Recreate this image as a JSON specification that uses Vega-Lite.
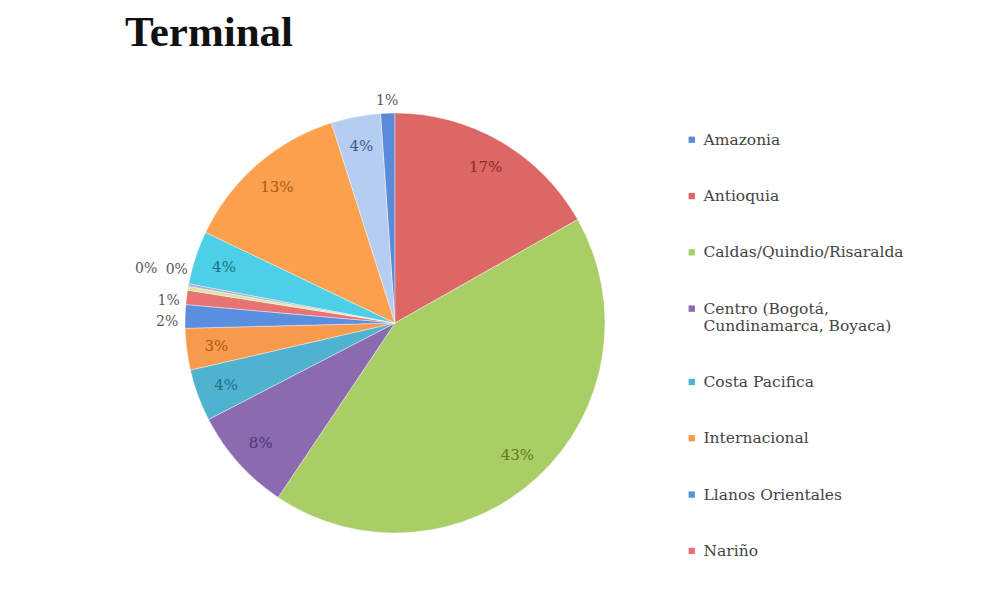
{
  "$schema": "https://vega.github.io/schema/vega-lite/v6.json",
  "autosize": {"type": "none"},
  "padding": {"left": 0, "top": 60, "right": 191, "bottom": 23},
  "width": 790,
  "height": 526,
  "background": "#ffffff",
  "title": {"text": "Terminal", "anchor": "start", "frame": "group", "font": "Liberation Serif", "fontSize": 43, "fontWeight": "bold", "color": "#111111", "dx": 125, "dy": 42, "offset": 13, "baseline": "alphabetic"},
  "data": {"values": [
    {"name": "Amazonia", "share": 0.011},
    {"name": "Antioquia", "share": 0.168},
    {"name": "Caldas/Quindio/Risaralda", "share": 0.426},
    {"name": "Centro (Bogotá, Cundinamarca, Boyaca)", "share": 0.080},
    {"name": "Costa Pacifica", "share": 0.040},
    {"name": "Internacional", "share": 0.032},
    {"name": "Llanos Orientales", "share": 0.018},
    {"name": "Nariño", "share": 0.011},
    {"name": "Norte de Santander", "share": 0.003},
    {"name": "Putumayo", "share": 0.002},
    {"name": "Santanderes", "share": 0.041},
    {"name": "Tolima/Huila", "share": 0.130},
    {"name": "Valle del Cauca", "share": 0.038}
  ]},
  "layer": [
    {
      "mark": {"type": "arc", "outerRadius": 210, "stroke": "#ffffff", "strokeWidth": 0.4},
      "encoding": {
        "theta": {"field": "share", "type": "quantitative", "stack": true, "scale": {"domain": [0, 1], "range": [-0.0691, 6.2141], "zero": false, "nice": false}},
        "order": {"field": "name", "sort": "ascending"},
        "color": {
          "field": "name", "type": "nominal",
          "scale": {
            "domain": ["Amazonia", "Antioquia", "Caldas/Quindio/Risaralda", "Centro (Bogotá, Cundinamarca, Boyaca)", "Costa Pacifica", "Internacional", "Llanos Orientales", "Nariño", "Norte de Santander", "Putumayo", "Santanderes", "Tolima/Huila", "Valle del Cauca"],
            "range": ["#5b8bd6", "#dc6764", "#a9ce66", "#8a6bb0", "#4fb3cf", "#f79a4d", "#5a8fe0", "#e77472", "#d6e8a0", "#b9a5d6", "#4dcfe8", "#fba04c", "#b6cdf2"]
          },
          "legend": {
            "orient": "none", "legendX": 684, "legendY": 72, "title": null,
            "values": ["Amazonia", "Antioquia", "Caldas/Quindio/Risaralda", "Centro (Bogotá, Cundinamarca, Boyaca)", "Costa Pacifica", "Internacional", "Llanos Orientales", "Nariño"],
            "symbolType": "square", "symbolSize": 40, "symbolStrokeWidth": 0,
            "labelFont": "DejaVu Serif", "labelFontSize": 15.5, "labelColor": "#444444", "labelOffset": 4, "labelLimit": 320,
            "labelLineHeight": 17,
            "rowPadding": 39.3,
            "labelExpr": "datum.label == 'Centro (Bogotá, Cundinamarca, Boyaca)' ? ['Centro (Bogotá,', 'Cundinamarca, Boyaca)'] : datum.label"
          }
        }
      }
    },
    {
      "mark": {"type": "text", "radius": 180, "font": "DejaVu Serif", "fontSize": 15},
      "encoding": {
        "theta": {"field": "share", "type": "quantitative", "stack": true},
        "order": {"field": "name", "sort": "ascending"},
        "text": {"condition": {"test": "datum.share < 0.025", "value": ""}, "field": "share", "type": "quantitative", "format": ".0%"},
        "color": {
          "field": "name", "type": "nominal", "legend": null,
          "scale": {
            "domain": ["Amazonia", "Antioquia", "Caldas/Quindio/Risaralda", "Centro (Bogotá, Cundinamarca, Boyaca)", "Costa Pacifica", "Internacional", "Llanos Orientales", "Nariño", "Norte de Santander", "Putumayo", "Santanderes", "Tolima/Huila", "Valle del Cauca"],
            "range": ["#3d5a8a", "#8b2a2a", "#5e7a22", "#4f3570", "#1f6f84", "#a85a18", "#3d5a8a", "#8b2a2a", "#5e7a22", "#4f3570", "#1f6f84", "#a85a18", "#3d5a8a"]
          }
        }
      }
    },
    {
      "mark": {"type": "text", "radius": 228, "font": "DejaVu Serif", "fontSize": 14, "color": "#595959", "dy": 6},
      "encoding": {
        "theta": {"field": "share", "type": "quantitative", "stack": true},
        "order": {"field": "name", "sort": "ascending"},
        "text": {"condition": {"test": "datum.share >= 0.025 || datum.share < 0.005", "value": ""}, "field": "share", "type": "quantitative", "format": ".0%"}
      }
    },
    {
      "mark": {"type": "text", "radius": 228, "font": "DejaVu Serif", "fontSize": 14, "color": "#595959", "dx": -24, "dy": -16},
      "encoding": {
        "theta": {"field": "share", "type": "quantitative", "stack": true},
        "order": {"field": "name", "sort": "ascending"},
        "text": {"condition": {"test": "datum.name != 'Norte de Santander'", "value": ""}, "field": "share", "type": "quantitative", "format": ".0%"}
      }
    },
    {
      "mark": {"type": "text", "radius": 228, "font": "DejaVu Serif", "fontSize": 14, "color": "#595959", "dx": 6, "dy": -12},
      "encoding": {
        "theta": {"field": "share", "type": "quantitative", "stack": true},
        "order": {"field": "name", "sort": "ascending"},
        "text": {"condition": {"test": "datum.name != 'Putumayo'", "value": ""}, "field": "share", "type": "quantitative", "format": ".0%"}
      }
    }
  ],
  "resolve": {"scale": {"color": "independent"}}
}
